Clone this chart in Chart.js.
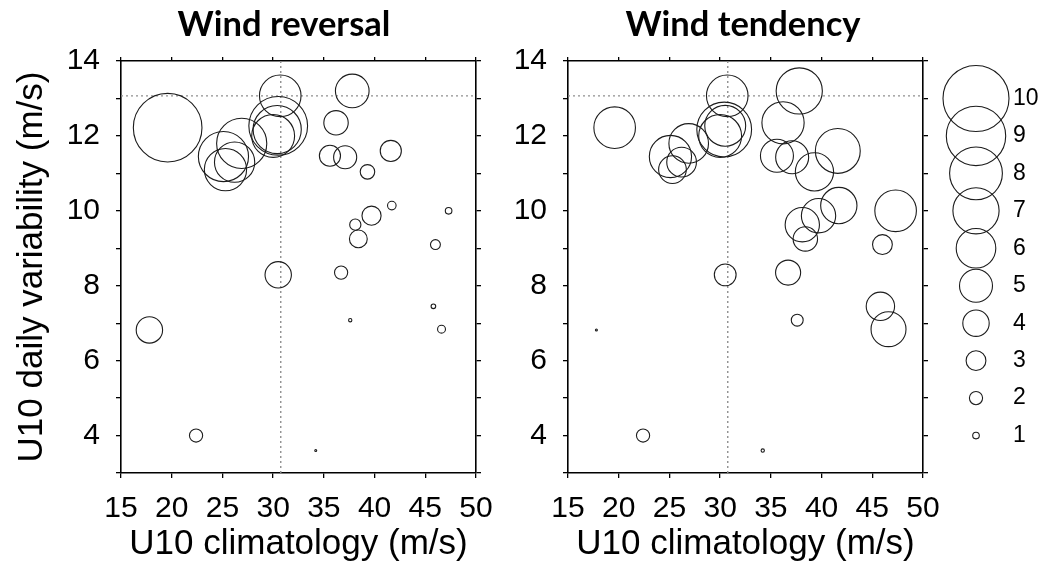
<!DOCTYPE html>
<html>
<head>
<meta charset="utf-8">
<title>Wind reversal / Wind tendency</title>
<script src="https://cdn.jsdelivr.net/npm/chart.js@4.4.1/dist/chart.umd.min.js"></script>
<style>
    html, body { margin: 0; padding: 0; background: #fff; }
    #wrap { position: relative; width: 1044px; height: 570px; overflow: hidden; }
    canvas { position: absolute; top: 0; }
    #reversal { left: 0; }
    #tendency { left: 447px; }
    #legend { left: 940px; }
</style>
</head>
<body>
<div id="wrap">
    <canvas id="reversal" width="568" height="570" style="width:568px;height:570px"></canvas>
    <canvas id="tendency" width="592" height="570" style="width:592px;height:570px"></canvas>
    <canvas id="legend" width="104" height="570" style="width:104px;height:570px"></canvas>
</div>
<script>
"use strict";

// one entry per site: U10 climatology (x) and U10 daily variability (y), m/s
var climatology = [19.6, 30.7, 37.8, 36.2, 35.6, 37.1, 41.6, 39.3, 41.7, 47.3,
                   39.7, 38.1, 38.4, 46.0, 30.5, 36.7, 17.8, 45.8, 37.6, 46.6,
                   22.4, 34.2, 30.5, 30.4, 30.0, 26.9, 25.1, 25.3, 26.2];
var variability = [12.22, 13.07, 13.2, 12.35, 11.47, 11.43, 11.6, 11.04, 10.14, 10.0,
                   9.87, 9.63, 9.25, 9.1, 8.29, 8.35, 6.82, 7.45, 7.08, 6.84,
                   4.0, 3.6, 12.27, 12.17, 12.0, 11.8, 11.45, 11.1, 11.3];

// circle size (legend units) for each site
var windReversal = [10.4, 6.3, 5.1, 3.7, 3.2, 3.5, 3.2, 2.2, 1.3, 1.0,
                    2.9, 1.7, 2.7, 1.5, 4.0, 2.0, 4.0, 0.7, 0.5, 1.2,
                    2.0, 0.3, 8.9, 7.3, 6.5, 7.6, 7.6, 6.4, 6.1];
var windTendency = [6.3, 6.3, 7.0, 6.4, 5.0, 5.0, 6.8, 5.8, 5.5, 6.3,
                    5.2, 5.2, 3.7, 3.0, 3.3, 3.8, 0.3, 4.3, 1.8, 5.3,
                    2.0, 0.5, 6.2, 8.3, 6.5, 6.0, 6.4, 4.2, 4.5];

var legendSizes = [10, 9, 8, 7, 6, 5, 4, 3, 2, 1];

// dotted reference lines
var refClimatology = 30.75;
var refVariability = 13.07;

var X_MIN = 15, X_MAX = 50, X_STEP = 5;
var Y_MIN = 3, Y_MAX = 14, Y_STEP = 1;

var RADIUS_PER_UNIT = 3.3;
var LEGEND_OFFSET = 3;   // legend row for size v sits at y = v + 3
var FONT = "'Liberation Sans', Arial, sans-serif";
var INK = '#000';

Chart.defaults.font.family = FONT;
Chart.defaults.color = INK;

function bubblePoints(sizes) {
    return climatology.map(function (x, i) {
        return { x: x, y: variability[i], r: sizes[i] * RADIUS_PER_UNIT };
    });
}

function fixWidth(w) {
    return function (scale) { scale.width = w; };
}

function fixHeight(h) {
    return function (scale) { scale.height = h; };
}

function refLine(points) {
    return {
        type: 'line',
        data: points,
        xAxisID: 'x',
        yAxisID: 'y',
        borderColor: '#8f8f8f',
        borderWidth: 1.4,
        borderDash: [2, 3],
        pointRadius: 0,
        fill: false
    };
}

function frameGrid(len) {
    return { drawOnChartArea: false, drawTicks: true, tickLength: len, color: INK, lineWidth: 1.3 };
}

var frameBorder = { color: INK, width: 1.6 };

function panelConfig(title, sizes, showYTitle, rightWidth) {
    return {
        type: 'bubble',
        data: {
            datasets: [
                {
                    data: bubblePoints(sizes),
                    xAxisID: 'x',
                    yAxisID: 'y',
                    backgroundColor: 'rgba(0,0,0,0)',
                    borderColor: '#1c1c1c',
                    borderWidth: 1.1
                },
                refLine([{ x: X_MIN, y: refVariability }, { x: X_MAX, y: refVariability }]),
                refLine([{ x: refClimatology, y: Y_MIN }, { x: refClimatology, y: Y_MAX }])
            ]
        },
        options: {
            responsive: false,
            animation: false,
            events: [],
            layout: { padding: 0, autoPadding: false },
            plugins: {
                legend: { display: false },
                tooltip: { enabled: false },
                title: {
                    display: true,
                    text: title,
                    color: INK,
                    font: { family: 'Lato', size: 34.5, weight: 'bold', lineHeight: 1.2 },
                    padding: { top: 4, bottom: 11.6 }
                }
            },
            scales: {
                x: {
                    type: 'linear',
                    position: 'bottom',
                    min: X_MIN,
                    max: X_MAX,
                    ticks: { stepSize: X_STEP, autoSkip: false, maxRotation: 0, padding: 13,
                             color: INK, font: { size: 30 } },
                    grid: frameGrid(5),
                    border: frameBorder,
                    title: { display: true, text: 'U10 climatology (m/s)', color: INK,
                             font: { size: 35, lineHeight: 1.2 }, padding: { top: 0, bottom: 5 } },
                    afterFit: fixHeight(97)
                },
                xTop: {
                    type: 'linear',
                    axis: 'x',
                    position: 'top',
                    min: X_MIN,
                    max: X_MAX,
                    ticks: { display: false, stepSize: X_STEP },
                    grid: frameGrid(4),
                    border: frameBorder,
                    afterFit: fixHeight(4)
                },
                y: {
                    type: 'linear',
                    position: 'left',
                    min: Y_MIN,
                    max: Y_MAX,
                    ticks: {
                        stepSize: Y_STEP, autoSkip: false, padding: 16, color: INK, font: { size: 30 },
                        callback: function (v) { return v % 2 === 0 ? String(v) : ''; }
                    },
                    grid: frameGrid(5),
                    border: frameBorder,
                    title: { display: showYTitle, text: 'U10 daily variability (m/s)', color: INK,
                             font: { size: 35, lineHeight: 1.2 }, padding: { top: 11, bottom: 0 } },
                    afterFit: fixWidth(121)
                },
                yRight: {
                    type: 'linear',
                    axis: 'y',
                    position: 'right',
                    min: Y_MIN,
                    max: Y_MAX,
                    ticks: { display: false, stepSize: Y_STEP },
                    grid: frameGrid(5),
                    border: frameBorder,
                    afterFit: fixWidth(rightWidth)
                }
            }
        }
    };
}

new Chart(document.getElementById('reversal'), panelConfig('Wind reversal', windReversal, true, 92));
new Chart(document.getElementById('tendency'), panelConfig('Wind tendency', windTendency, false, 116));

// size key, drawn on the same vertical scale as the panels
new Chart(document.getElementById('legend'), {
    type: 'bubble',
    data: {
        datasets: [{
            data: legendSizes.map(function (v) {
                return { x: 0.5, y: v + LEGEND_OFFSET, r: v * RADIUS_PER_UNIT };
            }),
            backgroundColor: 'rgba(0,0,0,0)',
            borderColor: '#1c1c1c',
            borderWidth: 1.1,
            clip: false
        }]
    },
    options: {
        responsive: false,
        animation: false,
        events: [],
        layout: { padding: { top: 61, bottom: 97, left: 0, right: 0 }, autoPadding: false },
        plugins: { legend: { display: false }, tooltip: { enabled: false } },
        scales: {
            x: { type: 'linear', min: 0, max: 1, display: false },
            y: {
                type: 'linear',
                position: 'right',
                min: Y_MIN,
                max: Y_MAX,
                afterBuildTicks: function (scale) {
                    scale.ticks = legendSizes.map(function (v) { return { value: v + LEGEND_OFFSET }; });
                },
                ticks: {
                    padding: 1, color: INK, font: { size: 23 },
                    callback: function (v) { return String(v - LEGEND_OFFSET); }
                },
                grid: { display: false, drawTicks: false },
                border: { display: false },
                afterFit: fixWidth(32)
            }
        }
    }
});
</script>
</body>
</html>
